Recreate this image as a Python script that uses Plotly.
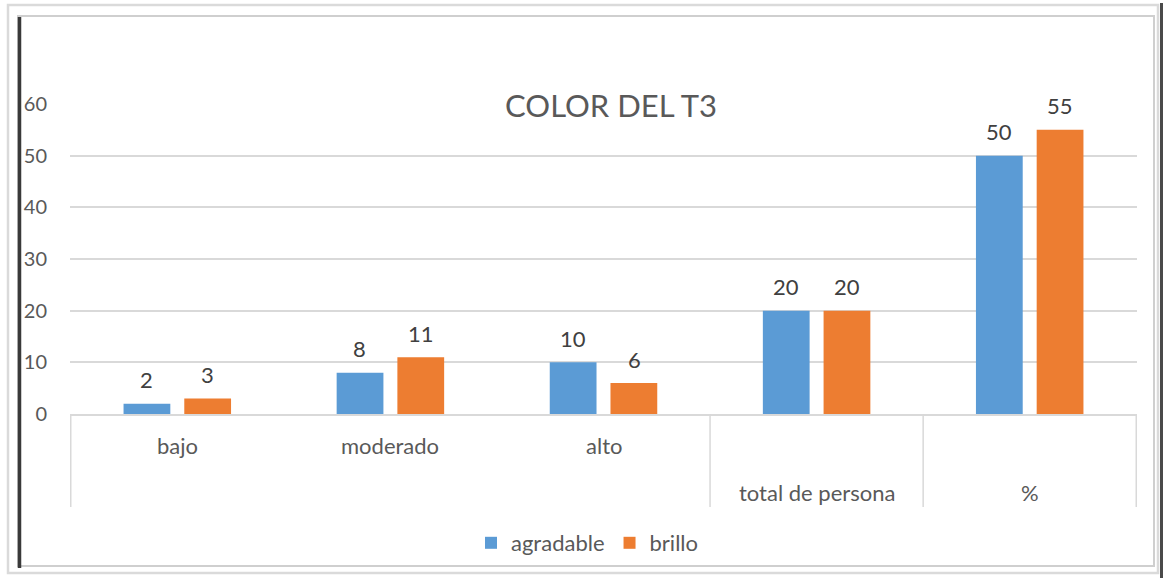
import plotly.graph_objects as go

categories = ["bajo", "moderado", "alto", "total de persona", "%"]
agradable = [2, 8, 10, 20, 50]
brillo = [3, 11, 6, 20, 55]
label_rows = [0, 0, 0, 1, 1]  # which text row each category label sits on
y_ticks = [0, 10, 20, 30, 40, 50, 60]

W, H = 1166, 578
ML, MR, MT, MB = 70, 29, 104, 164
PW, PH = W - ML - MR, H - MT - MB

FONT = "Lato"
TXT = "#595959"
BLUE = "#5B9BD5"
ORANGE = "#ED7D31"
GRID = "#D9D9D9"


def px_x(x):
    return (x - ML) / PW


def px_y(y):
    return 1 - (y - MT) / PH


fig = go.Figure()
fig.add_trace(go.Bar(name="agradable", x=categories, y=agradable,
                     marker=dict(color=BLUE, line=dict(width=0))))
fig.add_trace(go.Bar(name="brillo", x=categories, y=brillo,
                     marker=dict(color=ORANGE, line=dict(width=0))))

annotations = []
# data labels
for vals, shift in ((agradable, -30.5), (brillo, 30.5)):
    for c, v in zip(categories, vals):
        annotations.append(dict(x=c, y=v, xref="x", yref="y", text=str(v),
                                showarrow=False, xshift=shift, yshift=24,
                                yanchor="middle",
                                font=dict(family=FONT, size=22, color="#404040")))
# category labels
row_y = [px_y(445), px_y(492)]
for c, r in zip(categories, label_rows):
    annotations.append(dict(x=c, y=row_y[r], xref="x", yref="paper", text=c,
                            showarrow=False, yanchor="middle",
                            font=dict(family=FONT, size=22, color=TXT)))

shapes = []
# category dividers
for xd in (-0.5, 2.5, 3.5, 4.5):
    shapes.append(dict(type="line", xref="x", yref="paper", x0=xd, x1=xd,
                       y0=0, y1=px_y(507), line=dict(color=GRID, width=1.5)))
# outer frame
shapes.append(dict(type="rect", xref="paper", yref="paper",
                   x0=px_x(8), x1=px_x(1158), y0=px_y(5), y1=px_y(573),
                   line=dict(color="#DADADA", width=2.5), layer="below"))
shapes.append(dict(type="rect", xref="paper", yref="paper",
                   x0=px_x(18), x1=px_x(1154), y0=px_y(16), y1=px_y(566),
                   line=dict(color="#CFCFCF", width=2), layer="below"))
shapes.append(dict(type="line", xref="paper", yref="paper",
                   x0=px_x(19.5), x1=px_x(19.5), y0=px_y(17), y1=px_y(568),
                   line=dict(color="#3A3A3A", width=3.5)))
shapes.append(dict(type="line", xref="paper", yref="paper",
                   x0=px_x(1161.5), x1=px_x(1161.5), y0=px_y(3), y1=px_y(578),
                   line=dict(color="#4A4A4A", width=3)))

fig.update_layout(
    width=W, height=H,
    margin=dict(l=ML, r=MR, t=MT, b=MB, pad=0),
    paper_bgcolor="white", plot_bgcolor="white",
    barmode="group", bargap=0.43, bargroupgap=0.23,
    font=dict(family=FONT, size=22, color=TXT),
    title=dict(text="COLOR DEL T3", x=611 / W, y=1 - 106 / H,
               xanchor="center", yanchor="middle", xref="container",
               yref="container",
               font=dict(family=FONT, size=31, color=TXT)),
    xaxis=dict(showticklabels=False, showgrid=False, showline=True,
               linecolor=GRID, linewidth=1.5, zeroline=False, ticks=""),
    yaxis=dict(range=[0, 60], tickvals=y_ticks, showgrid=True, gridcolor=GRID,
               gridwidth=1.5, zeroline=False, showline=False, ticks="",
               ticklabelstandoff=22,
               tickfont=dict(family=FONT, size=20, color=TXT)),
    legend=dict(orientation="h", x=px_x(587), xanchor="center",
                y=px_y(543), yanchor="middle",
                font=dict(family=FONT, size=22, color=TXT),
                itemwidth=30, traceorder="normal"),
    annotations=annotations,
    shapes=shapes,
)

fig.write_html("out.html")
